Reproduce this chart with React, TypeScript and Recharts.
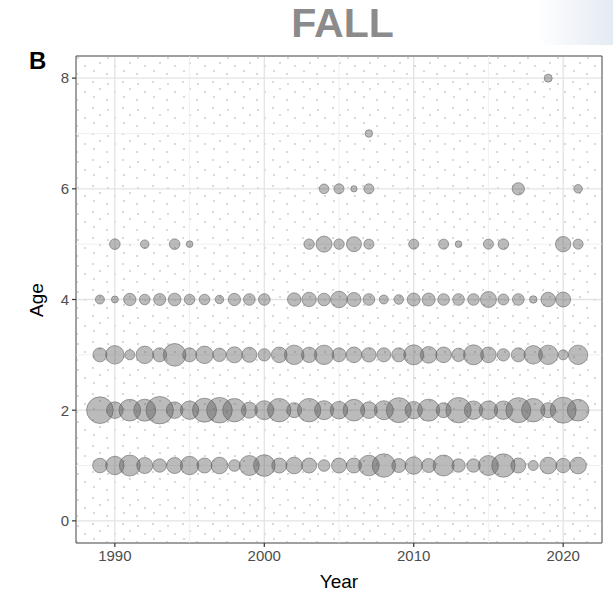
import React from 'react';
import {
  ScatterChart, Scatter, XAxis, YAxis, ZAxis, CartesianGrid, ReferenceLine, ReferenceArea,
} from 'recharts';

// survey years, 1989-2021
const years = [
  1989, 1990, 1991, 1992, 1993, 1994, 1995, 1996, 1997, 1998, 1999,
  2000, 2001, 2002, 2003, 2004, 2005, 2006, 2007, 2008, 2009, 2010,
  2011, 2012, 2013, 2014, 2015, 2016, 2017, 2018, 2019, 2020, 2021,
];

// relative catch per age, one value per year (null = none caught)
const age1 = [53, 85, 110, 64, 45, 64, 85, 56, 69, 34, 100, 117, 56, 69, 56, 34, 56,
  56, 106, 137, 49, 76, 49, 110, 45, 45, 100, 137, 56, 25, 69, 52, 69];
const age2 = [177, 69, 117, 121, 188, 69, 85, 144, 164, 137, 64, 90, 137, 56, 137, 90, 77,
  117, 69, 90, 156, 76, 121, 56, 161, 85, 85, 85, 156, 137, 56, 169, 117];
const age3 = [49, 85, 25, 76, 49, 128, 49, 76, 45, 64, 56, 38, 61, 94, 59, 94, 49,
  61, 52, 49, 49, 100, 69, 61, 45, 100, 61, 38, 49, 85, 94, 25, 94];
const age4 = [20, 12, 38, 28, 36, 40, 28, 28, 18, 38, 34, 34, null, 45, 52, 40, 69,
  49, 34, 20, 23, 42, 42, 34, 34, 34, 64, 30, 34, 14, 53, 56, null];
const age5 = [null, 28, null, 18, null, 28, 11, null, null, null, null, null, null, null, 27, 64, 27,
  56, 25, null, null, 25, null, 25, 11, null, 25, 28, null, null, null, 59, 25];
const age6 = [null, null, null, null, null, null, null, null, null, null, null, null, null, null, null, 23, 25,
  10, 25, null, null, null, null, null, null, null, null, null, 38, null, null, null, 18];
const age7 = [null, null, null, null, null, null, null, null, null, null, null, null, null, null, null, null, null,
  null, 14, null, null, null, null, null, null, null, null, null, null, null, null, null, null];
const age8 = [null, null, null, null, null, null, null, null, null, null, null, null, null, null, null, null, null,
  null, null, null, null, null, null, null, null, null, null, null, null, null, 16, null, null];

const ages = [1, 2, 3, 4, 5, 6, 7, 8];
const byAge = [age1, age2, age3, age4, age5, age6, age7, age8];

const xTicks = [1990, 2000, 2010, 2020];
const yTicks = [0, 2, 4, 6, 8];
const xMinor = [1995, 2005, 2015];
const yMinor = [1, 3, 5, 7];

const points = byAge.flatMap((vals, i) =>
  vals
    .map((v, j) => (v == null ? null : { year: years[j], age: ages[i], n: v }))
    .filter((p) => p !== null)
);

const font = '"Liberation Sans", Arial, sans-serif';
const tickStyle = { fill: '#4d4d4d', fontSize: 15, fontFamily: font };

export default function App() {
  return (
    <div style={{ position: 'absolute', left: 0, top: 0, width: 613, height: 596, background: '#fff', fontFamily: font }}>
      <div style={{ position: 'absolute', left: 537, top: 0, width: 76, height: 45, background: 'linear-gradient(to right, #ffffff, #e4ebf3)' }} />
      <div style={{ position: 'absolute', left: 0, width: 613, top: 0, textAlign: 'center', paddingLeft: 72, boxSizing: 'border-box', fontSize: 41, fontWeight: 700, color: '#8b8b8b', lineHeight: '46px' }}>
        FALL
      </div>
      <div style={{ position: 'absolute', left: 29, top: 47, fontSize: 24, fontWeight: 700, color: '#000' }}>B</div>
      <div style={{ position: 'absolute', left: 37, top: 300, transform: 'translate(-50%, -50%) rotate(-90deg)', fontSize: 19, color: '#000' }}>Age</div>
      <div style={{ position: 'absolute', left: 339, top: 582, transform: 'translate(-50%, -50%)', fontSize: 19, color: '#000' }}>Year</div>

      <ScatterChart width={613} height={596} margin={{ top: 56, right: 11, bottom: 23, left: 36 }} style={{ position: 'absolute', left: 0, top: 0 }}>
        <defs>
          <pattern id="stipple" width="30" height="26" patternUnits="userSpaceOnUse">
            <circle cx="3" cy="4" r="0.8" fill="#a8a8a8" />
            <circle cx="18" cy="6" r="0.8" fill="#a8a8a8" />
            <circle cx="10" cy="11" r="0.8" fill="#a8a8a8" />
            <circle cx="25" cy="14" r="0.8" fill="#a8a8a8" />
            <circle cx="4" cy="19" r="0.8" fill="#a8a8a8" />
            <circle cx="17" cy="22" r="0.8" fill="#a8a8a8" />
          </pattern>
        </defs>
        <CartesianGrid stroke="#e3e3e3" strokeWidth={1.3} fill="url(#stipple)" />
        <XAxis
          type="number"
          dataKey="year"
          domain={[1987.4, 2022.6]}
          ticks={xTicks}
          allowDataOverflow
          height={30}
          axisLine={false}
          tickSize={4}
          tickMargin={3}
          tickLine={{ stroke: '#333', strokeWidth: 1.2 }}
          tick={tickStyle}
        />
        <YAxis
          type="number"
          dataKey="age"
          domain={[-0.4, 8.4]}
          ticks={yTicks}
          allowDataOverflow
          width={40}
          axisLine={false}
          tickSize={4}
          tickMargin={3}
          tickLine={{ stroke: '#333', strokeWidth: 1.2 }}
          tick={tickStyle}
        />
        <ZAxis type="number" dataKey="n" domain={[0, 200]} range={[0, 200 * Math.PI]} />
        {xMinor.map((x) => (
          <ReferenceLine key={'x' + x} x={x} stroke="#ececec" strokeWidth={0.8} />
        ))}
        {yMinor.map((y) => (
          <ReferenceLine key={'y' + y} y={y} stroke="#ececec" strokeWidth={0.8} />
        ))}
        <Scatter
          data={points}
          fill="#555555"
          fillOpacity={0.4}
          stroke="#666666"
          strokeOpacity={0.75}
          strokeWidth={0.8}
          isAnimationActive={false}
        />
        <ReferenceArea x1={1987.4} x2={2022.6} y1={-0.4} y2={8.4} fill="none" stroke="#555" strokeWidth={1} />
      </ScatterChart>
    </div>
  );
}
